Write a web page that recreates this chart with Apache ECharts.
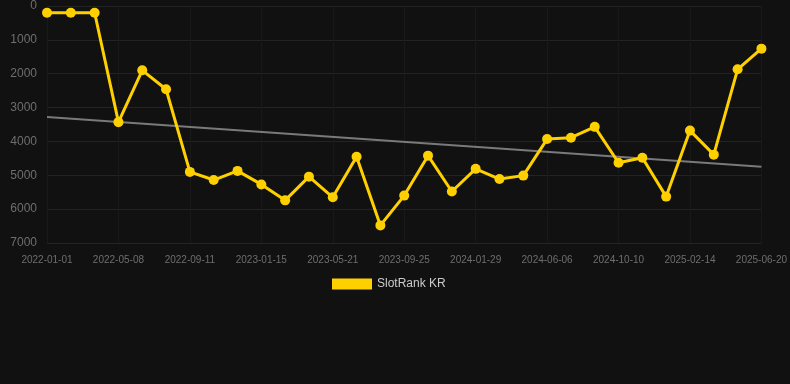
<!DOCTYPE html>
<html>
<head>
<meta charset="utf-8">
<script src="https://cdn.jsdelivr.net/npm/echarts@6/dist/echarts.min.js"></script>
<style>
html,body{margin:0;padding:0;background:#111111;}
#c{width:790px;height:384px;}
</style>
</head>
<body>
<div id="c"></div>
<script>
const categories = [
  "2022-01-01","2022-02-12","2022-03-26","2022-05-08","2022-06-19","2022-07-31",
  "2022-09-11","2022-10-23","2022-12-04","2023-01-15","2023-02-26","2023-04-09",
  "2023-05-21","2023-07-02","2023-08-13","2023-09-25","2023-11-06","2023-12-18",
  "2024-01-29","2024-03-12","2024-04-24","2024-06-06","2024-07-18","2024-08-29",
  "2024-10-10","2024-11-21","2025-01-03","2025-02-14","2025-03-28","2025-05-09",
  "2025-06-20"
];
const slotRankKR = [
  200, 200, 200, 3430, 1900, 2460,
  4900, 5140, 4870, 5270, 5740, 5040,
  5650, 4450, 6480, 5600, 4420, 5480,
  4810, 5110, 5010, 3930, 3890, 3570,
  4630, 4480, 5630, 3680, 4390, 1870,
  1260
];
const trendStart = 3280;
const trendEnd = 4745;
const yTicks = [0, 1000, 2000, 3000, 4000, 5000, 6000, 7000];

const trend = categories.map((c, i) => i === 0 ? trendStart : (i === categories.length - 1 ? trendEnd : null));

const chart = echarts.init(document.getElementById('c'), null, {renderer: 'canvas'});
chart.setOption({
  backgroundColor: '#111111',
  animation: false,
  grid: {left: 47, right: 28, top: 6, bottom: 141, containLabel: false},
  legend: {
    data: [{name: 'SlotRank KR', icon: 'rect'}],
    top: 273,
    left: 327,
    itemWidth: 40,
    itemHeight: 11,
    itemGap: 8,
    textStyle: {color: '#cccccc', fontSize: 12, fontFamily: 'Liberation Sans, Arial, sans-serif'}
  },
  xAxis: {
    type: 'category',
    data: categories,
    boundaryGap: false,
    axisLine: {show: false},
    axisTick: {show: false},
    axisLabel: {
      interval: 2,
      color: '#6e6e6e',
      fontSize: 10,
      margin: 12,
      fontFamily: 'Liberation Sans, Arial, sans-serif'
    },
    splitLine: {show: true, interval: 2, lineStyle: {color: '#191919', width: 1}}
  },
  yAxis: {
    type: 'value',
    inverse: true,
    min: yTicks[0],
    max: yTicks[yTicks.length - 1],
    interval: 1000,
    axisLine: {show: false},
    axisTick: {show: false},
    axisLabel: {
      color: '#6e6e6e', fontSize: 12, margin: 10,
      fontFamily: 'Liberation Sans, Arial, sans-serif',
      formatter: function (v) { return String(v); }
    },
    splitLine: {show: true, lineStyle: {color: '#232323', width: 1}}
  },
  series: [
    {
      name: 'SlotRank KR',
      type: 'line',
      data: slotRankKR,
      symbol: 'circle',
      symbolSize: 10,
      lineStyle: {color: '#ffd000', width: 3},
      itemStyle: {color: '#ffd000'},
      z: 3
    },
    {
      name: 'Trend',
      type: 'line',
      data: trend,
      connectNulls: true,
      symbol: 'none',
      lineStyle: {color: '#7a7a7a', width: 2},
      itemStyle: {color: '#7a7a7a'},
      z: 2
    }
  ]
});
</script>
</body>
</html>
